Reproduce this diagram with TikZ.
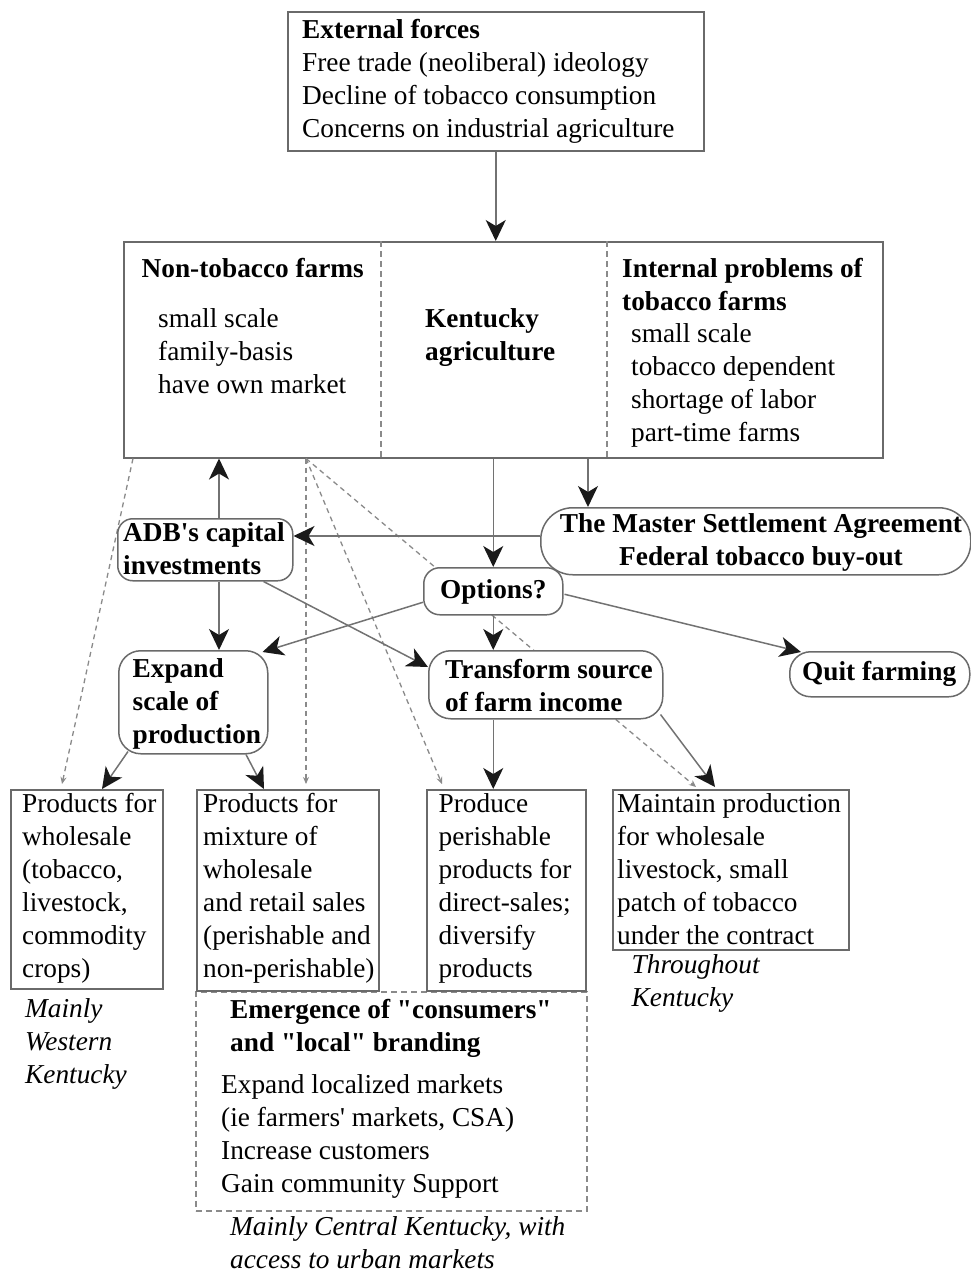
\documentclass[tikz,border=0pt]{standalone}
\usepackage{fontspec}
\setmainfont{Liberation Serif}
\usetikzlibrary{arrows.meta,calc}
\definecolor{boxgray}{HTML}{6A6A6A}
\definecolor{linegray}{HTML}{727272}
\definecolor{dashgray}{HTML}{8A8A8A}
\definecolor{tipblack}{HTML}{1A1A1A}
\tikzset{
  box/.style={draw=boxgray, line width=1.5pt, fill=white, inner sep=0pt, anchor=north west},
  rbox/.style={box, rounded corners=#1},
  txt/.style={inner sep=0pt, anchor=base west, text=black, font=\fontsize{27.3}{33}\selectfont},
  ctxt/.style={txt, anchor=base},
  conn/.style={draw=linegray, line width=1.5pt, -{Stealth[length=21pt,width=20pt,inset=6pt,tipblack]}},
  dconn/.style={draw=dashgray, line width=1.3pt, dash pattern=on 5pt off 4pt, -{Stealth[length=7pt,width=6pt,dashgray]}},
  divider/.style={draw=dashgray, line width=1.3pt, dash pattern=on 6pt off 4pt},
}
\newcommand\txtlines[5]{%
  \foreach \t [count=\i] in {#5} {\node[#1] (#2\i) at (#3, {#4+33*(\i-1)}) {\t};}}
\begin{document}
\begin{tikzpicture}[x=1pt, y=-1pt]
\useasboundingbox (0,0) rectangle (971,1274);

% dashed emergence box (under the boxes above it)
\node[box, fill=none, draw=dashgray, dash pattern=on 6pt off 4pt, minimum width=391pt, minimum height=219pt] (emg) at (195,991) {};

% main boxes
\node[box, minimum width=416pt, minimum height=139pt] (ext) at (287,11) {};
\node[box, minimum width=759pt, minimum height=216pt] (big) at (123,241) {};
\draw[divider] (381,241) -- (381,457);
\draw[divider] (607,241) -- (607,457);

% dashed connectors (behind the option boxes)
\coordinate (d0) at ($(big.south west)+(10,0)$);
\coordinate (d1) at ($(big.south west)+(183,0)$);
\node[box, minimum width=152pt, minimum height=199pt] (pw) at (10,789) {};
\node[box, minimum width=182pt, minimum height=201pt] (pm) at (196,789) {};
\node[box, minimum width=159pt, minimum height=201pt] (pp) at (426,789) {};
\node[box, minimum width=236pt, minimum height=160pt] (mp) at (612,789) {};
\draw[dconn] (d0) -- ($(pw.north west)+(52,-5)$);
\draw[dconn] (d1) -- ($(pm.north west)+(110,-5)$);
\draw[dconn] (d1) -- ($(pp.north west)+(16,-5)$);
\draw[dconn] (d1) -- ($(mp.north west)+(84,-2)$);

% rounded boxes
\node[rbox=15pt, minimum width=175pt, minimum height=62pt] (adb) at (117,518) {};
\node[rbox=32pt, minimum width=430pt, minimum height=67pt] (master) at (540,507) {};
\node[rbox=16pt, minimum width=139pt, minimum height=47pt] (opt) at (423,567) {};
\node[rbox=22pt, minimum width=149pt, minimum height=103pt] (expand) at (118,650) {};
\node[rbox=22pt, minimum width=234pt, minimum height=68pt] (transform) at (428,650) {};
\node[rbox=21pt, minimum width=180pt, minimum height=45pt] (quit) at (789,651) {};

% texts
\txtlines{txt}{ext}{302}{38.5}{\textbf{External forces},{Free trade (neoliberal) ideology},Decline of tobacco consumption,Concerns on industrial agriculture}
\node[txt] (ntf) at (141.5,277) {\textbf{Non-tobacco farms}};
\txtlines{txt}{ntf}{158}{327}{small scale,family-basis,have own market}
\txtlines{txt}{ky}{425}{327}{\textbf{Kentucky},\textbf{agriculture}}
\txtlines{txt}{ipt}{622}{277}{\textbf{Internal problems of},\textbf{tobacco farms}}
\txtlines{txt}{ip}{631}{342}{small scale,tobacco dependent,shortage of labor,part-time farms}
\txtlines{txt}{adbt}{123}{541}{\textbf{ADB\textquotesingle s capital},\textbf{investments}}
\txtlines{ctxt}{mst}{761}{532}{\textbf{The Master Settlement Agreement},\textbf{Federal tobacco buy-out}}
\node[txt] (optt) at (440,598) {\textbf{Options?}};
\txtlines{txt}{expt}{132.5}{677}{\textbf{Expand},\textbf{scale of},\textbf{production}}
\txtlines{txt}{trt}{445}{678}{\textbf{Transform source},\textbf{of farm income}}
\node[txt] (qt) at (802,680) {\textbf{Quit farming}};
\txtlines{txt}{pwt}{22}{812}{Products for,wholesale,{(tobacco,},{livestock,},commodity,{crops)}}
\txtlines{txt}{pmt}{203}{812}{Products for,mixture of,wholesale,and retail sales,{(perishable and},{non-perishable)}}
\txtlines{txt}{ppt}{438.5}{812}{Produce,perishable,products for,direct-sales;,diversify,products}
\txtlines{txt}{mpt}{617}{812}{Maintain production,for wholesale,{livestock, small},patch of tobacco,under the contract}
\txtlines{txt}{wk}{25}{1017}{\textit{Mainly},\textit{Western},\textit{Kentucky}}
\txtlines{txt}{tk}{631.5}{973}{\textit{Throughout},\textit{Kentucky}}
\txtlines{txt}{emt}{230}{1018}{{\textbf{Emergence of \textquotedbl consumers\textquotedbl}},{\textbf{and \textquotedbl local\textquotedbl\ branding}}}
\txtlines{txt}{eml}{221}{1093}{Expand localized markets,{(ie farmers\textquotesingle\ markets, CSA)},Increase customers,Gain community Support}
\txtlines{txt}{ck}{230}{1235}{{\textit{Mainly Central Kentucky, with}},{\textit{access to urban markets}}}

% solid connectors
\draw[conn] (ext.south) -- (ext.south |- big.north);
\coordinate (a1) at ($(adb.north west)+(102,0)$);
\draw[conn] (a1) -- (a1 |- big.south);
\coordinate (a2) at ($(adb.south west)+(102,0)$);
\draw[conn] (a2) -- (a2 |- expand.north);
\draw[conn] (opt.north |- big.south) -- (opt.north);
\coordinate (m1) at ($(master.north west)+(48,0)$);
\draw[conn] (m1 |- big.south) -- (m1);
\coordinate (m2) at ($(master.north west)+(0,29)$);
\draw[conn] (m2) -- (m2 -| adb.east);
\draw[conn] ($(opt.west)+(0,11)$) -- ($(expand.north east)+(-6,2)$);
\draw[conn] ($(adb.south east)+(-30,0)$) -- ($(transform.north west)+(0,17)$);
\draw[conn] (opt.south) -- (opt.south |- transform.north);
\draw[conn] ($(opt.east)+(1,3)$) -- ($(quit.north west)+(12,1)$);
\draw[conn] (opt.south |- transform.south) -- (opt.south |- pp.north);
\draw[conn] ($(transform.south east)+(-3,-5)$) -- ($(mp.north west)+(103,-2)$);
\draw[conn] ($(expand.south west)+(10,-3)$) -- ($(pw.north west)+(92,0)$);
\draw[conn] ($(expand.south west)+(128,0)$) -- ($(pm.north west)+(68,0)$);
\end{tikzpicture}
\end{document}
